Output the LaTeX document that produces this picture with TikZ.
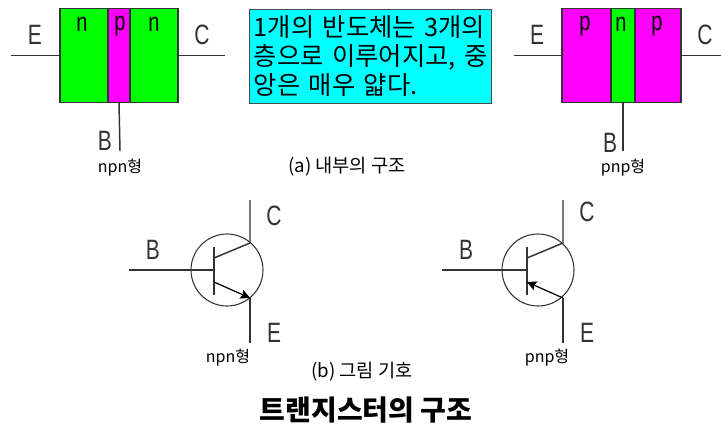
\documentclass[tikz,border=0pt]{standalone}
\usepackage{fontspec}
\setmainfont{Noto Sans CJK KR}
\newfontfamily\termfont[FakeStretch=0.75]{Liberation Sans}
\newfontfamily\notefont[WordSpace=1.9]{Noto Sans CJK KR}
\usetikzlibrary{arrows.meta, positioning}
\definecolor{layer-green}{RGB}{0,255,0}
\definecolor{layer-magenta}{RGB}{255,0,255}
\definecolor{note-cyan}{RGB}{0,255,255}
\tikzset{
  % Layers of the semiconductor block
  layer/.style={rectangle, draw=black!80, line width=1.1pt, outer sep=0pt, inner sep=0pt, minimum height=70.5pt},
  layer-n/.style={layer, fill=layer-green},
  layer-p/.style={layer, fill=layer-magenta},
  layer-text/.style={font=\fontsize{20}{20}\selectfont\termfont, inner sep=0pt},
  term-text/.style={font=\fontsize{21}{21}\selectfont\termfont, text=black!80, inner sep=0pt},
  type-text/.style={font=\fontsize{12}{12}\selectfont, inner sep=0pt},
  caption-text/.style={font=\fontsize{14}{14}\selectfont, inner sep=0pt},
  wire/.style={black!80, line width=1.1pt},
  % Symbol
  sym-ring/.style={circle, draw=black!80, line width=0.8pt, minimum size=54pt, inner sep=0pt, outer sep=0pt},
  sym-arrow/.style={-{Stealth[length=7pt, width=7pt, inset=1pt]}, black, line width=0.9pt}
}
\begin{document}
\begin{tikzpicture}[x=0.75pt, y=-0.75pt]
    \useasboundingbox (0,0) rectangle (721,426);
    % --- Top left: npn block ---
    \node[layer-n, anchor=north west, minimum width=36pt] (npn-left) at (60,8.5) {};
    \node[layer-p, right=0pt of npn-left, minimum width=16.5pt] (npn-mid) {};
    \node[layer-n, right=0pt of npn-mid, minimum width=36pt] (npn-right) {};
    \node[layer-text] (npn-left-text) at (82,24) {n};
    \node[layer-text] (npn-mid-text) at (120,26) {p};
    \node[layer-text] (npn-right-text) at (154,24) {n};
    \coordinate (npn-e) at (11,55.5);
    \coordinate (npn-c) at (225,55.5);
    \coordinate (npn-b) at (120,151);
    \draw[wire] (npn-e) -- (npn-left.west);
    \draw[wire] (npn-right.east) -- (npn-c);
    \draw[wire] (npn-mid.south) -- (npn-b);
    \node[term-text] (npn-e-text) at (35,35) {E};
    \node[term-text] (npn-c-text) at (202,35) {C};
    \node[term-text] (npn-b-text) at (105,141) {B};
    \node[type-text] (npn-type) at (120,168) {npn형};

    % --- Note ---
    \node[rectangle, draw=black!70, line width=1.1pt, fill=note-cyan, anchor=north west, text width=175.5pt, minimum height=70.5pt, inner sep=3pt, align=left, font=\fontsize{19}{21.75}\selectfont\notefont] (note) at (249,8.5) {1개의 반도체는 3개의\\층으로 이루어지고, 중\\앙은 매우 얇다.};
    \node[caption-text] (caption-a) at (347,167) {(a) 내부의 구조};

    % --- Top right: pnp block ---
    \node[layer-p, anchor=north west, minimum width=36.75pt] (pnp-left) at (562,8.5) {};
    \node[layer-n, right=0pt of pnp-left, minimum width=18pt] (pnp-mid) {};
    \node[layer-p, right=0pt of pnp-mid, minimum width=34.5pt] (pnp-right) {};
    \node[layer-text] (pnp-left-text) at (585,26) {p};
    \node[layer-text] (pnp-mid-text) at (621,24) {n};
    \node[layer-text] (pnp-right-text) at (657,26) {p};
    \coordinate (pnp-e) at (514,55.5);
    \coordinate (pnp-c) at (721,55.5);
    \coordinate (pnp-b) at (623,151);
    \draw[wire] (pnp-e) -- (pnp-left.west);
    \draw[wire] (pnp-right.east) -- (pnp-c);
    \draw[wire] (pnp-mid.south) -- (pnp-b);
    \node[term-text] (pnp-e-text) at (537,35) {E};
    \node[term-text] (pnp-c-text) at (705,35) {C};
    \node[term-text] (pnp-b-text) at (610,143) {B};
    \node[type-text] (pnp-type) at (623,168) {pnp형};

    % --- Bottom left: npn symbol ---
    \node[sym-ring] (npn-ring) at (227,270) {};
    \coordinate (sn-base) at (214,270);
    \coordinate (sn-top) at (214,247);
    \coordinate (sn-bot) at (214,295);
    \coordinate (sn-base-c) at (214,258);
    \coordinate (sn-base-e) at (214,282);
    \coordinate (sn-c) at (250,243);
    \coordinate (sn-e) at (250,298);
    \coordinate (sn-b-end) at (129,270);
    \coordinate (sn-c-end) at (250,200);
    \coordinate (sn-e-end) at (250,343);
    \draw[wire] (sn-b-end) -- (sn-base);
    \draw[wire] (sn-top) -- (sn-bot);
    \draw[wire] (sn-base-c) -- (sn-c) -- (sn-c-end);
    \draw[sym-arrow] (sn-base-e) -- (sn-e);
    \draw[wire] (sn-e) -- (sn-e-end);
    \node[term-text] (sn-b-text) at (153,250) {B};
    \node[term-text] (sn-c-text) at (274,216) {C};
    \node[term-text] (sn-e-text) at (274,333) {E};
    \node[type-text] (sn-type) at (228,358) {npn형};

    % --- Bottom right: pnp symbol ---
    \node[sym-ring] (pnp-ring) at (538,270) {};
    \coordinate (sp-base) at (527,270);
    \coordinate (sp-top) at (527,247);
    \coordinate (sp-bot) at (527,295);
    \coordinate (sp-base-c) at (527,258);
    \coordinate (sp-base-e) at (527,282);
    \coordinate (sp-c) at (563,243);
    \coordinate (sp-e) at (563,298);
    \coordinate (sp-b-end) at (442,270);
    \coordinate (sp-c-end) at (563,200);
    \coordinate (sp-e-end) at (563,343);
    \draw[wire] (sp-b-end) -- (sp-base);
    \draw[wire] (sp-top) -- (sp-bot);
    \draw[wire] (sp-base-c) -- (sp-c) -- (sp-c-end);
    \draw[sym-arrow] (sp-e) -- (sp-base-e);
    \draw[wire] (sp-e) -- (sp-e-end);
    \node[term-text] (sp-b-text) at (466,250) {B};
    \node[term-text] (sp-c-text) at (587,212) {C};
    \node[term-text] (sp-e-text) at (587,333) {E};
    \node[type-text] (sp-type) at (547,358) {pnp형};

    % --- Captions ---
    \node[caption-text] (caption-b) at (362,372) {(b) 그림 기호};
    \node[font=\fontsize{21}{21}\selectfont\bfseries, inner sep=0pt] (title) at (366,410) {트랜지스터의 구조};
\end{tikzpicture}
\end{document}
